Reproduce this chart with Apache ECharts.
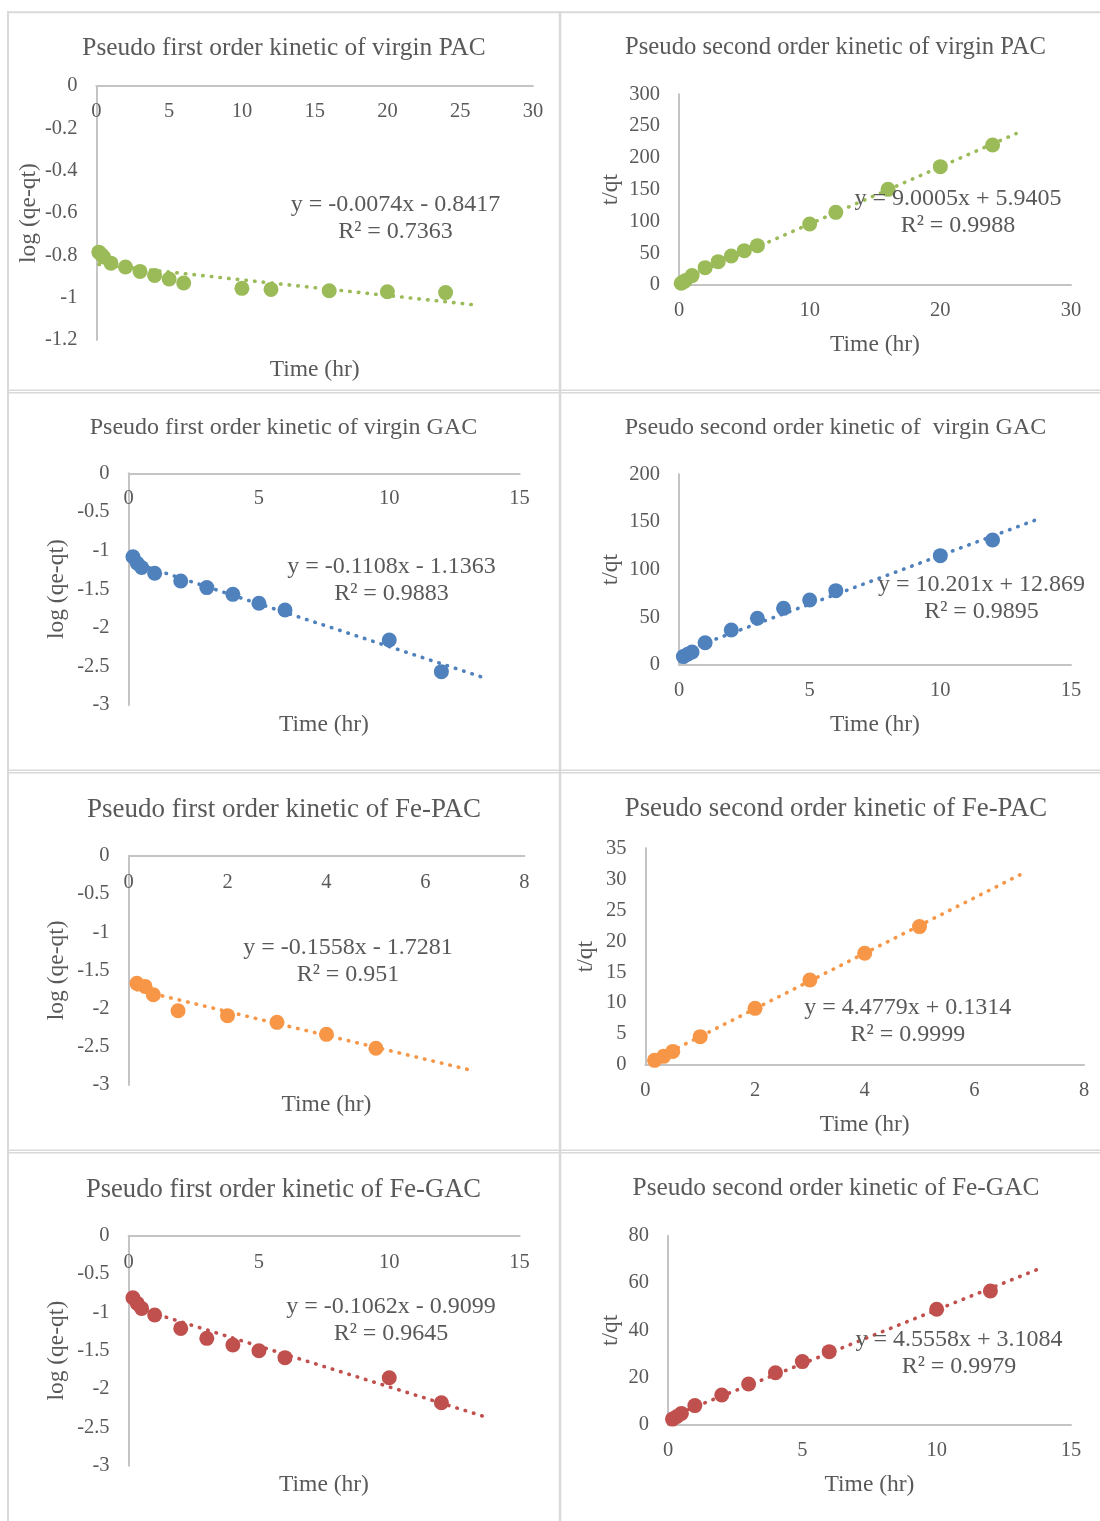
<!DOCTYPE html>
<html>
<head>
<meta charset="utf-8">
<script src="https://cdn.jsdelivr.net/npm/echarts@6/dist/echarts.min.js"></script>
<style>
  html, body { margin: 0; padding: 0; background: #ffffff; }
  #chart { width: 1100px; height: 1521px; }
</style>
</head>
<body>
<div id="chart"></div>
<script>
// ---- Data ----------------------------------------------------------------
// Contact times (hr)
const timePAC   = [0.167, 0.333, 0.5, 1, 2, 3, 4, 5, 6, 10, 12, 16, 20, 24];
const timeGAC   = [0.167, 0.333, 0.5, 1, 2, 3, 4, 5, 6, 10, 12];
const timeFePAC = [0.167, 0.333, 0.5, 1, 2, 3, 4, 5];
const timeFeGAC = [0.167, 0.333, 0.5, 1, 2, 3, 4, 5, 6, 10, 12];

// log (qe-qt) for the pseudo first order plots
const logPAC   = [-0.785, -0.796, -0.808, -0.837, -0.855, -0.876, -0.895, -0.912, -0.931, -0.956, -0.961, -0.967, -0.972, -0.976];
const logGAC   = [-1.08, -1.165, -1.22, -1.295, -1.394, -1.48, -1.567, -1.683, -1.77, -2.158, -2.568];
const logFePAC = [-1.67, -1.71, -1.82, -2.028, -2.093, -2.18, -2.337, -2.52];
const logFeGAC = [-0.809, -0.883, -0.948, -1.035, -1.209, -1.339, -1.426, -1.5, -1.591, -1.852, -2.178];

// t/qt for the pseudo second order plots
const tqPAC   = [2.8, 4.9, 7.0, 14.8, 27.3, 36.7, 45.6, 54, 61.9, 96, 114.3, 150.5, 186.2, 220.2];
const tqGAC   = [8.8, 11.2, 13.6, 23.4, 36.7, 49, 59.4, 68.2, 78, 114.7, 131.1];
const tqFePAC = [0.75, 1.4, 2.2, 4.58, 9.15, 13.73, 18.04, 22.35];
const tqFeGAC = [2.5, 3.6, 4.9, 8.2, 12.7, 17.3, 22.1, 26.8, 31, 48.9, 56.6];

// Linear fits (slope, intercept, R²) and where each trendline stops (hr)
const fitSlope     = [-0.0074, 9.0005, -0.1108, 10.201, -0.1558, 4.4779, -0.1062, 4.5558];
const fitIntercept = [-0.8417, 5.9405, -1.1363, 12.869, -1.7281, 0.1314, -0.9099, 3.1084];
const fitR2        = [0.7363, 0.9988, 0.9883, 0.9895, 0.951, 0.9999, 0.9645, 0.9979];
const fitEnd       = [25.8, 25.8, 13.8, 13.8, 7.0, 6.9, 13.8, 13.9];

// Text
const panelTitles = [
  'Pseudo first order kinetic of virgin PAC',
  'Pseudo second order kinetic of virgin PAC',
  'Pseudo first order kinetic of virgin GAC',
  'Pseudo second order kinetic of  virgin GAC',
  'Pseudo first order kinetic of Fe-PAC',
  'Pseudo second order kinetic of Fe-PAC',
  'Pseudo first order kinetic of Fe-GAC',
  'Pseudo second order kinetic of Fe-GAC'
];
const yNames = ['log (qe-qt)', 't/qt', 'log (qe-qt)', 't/qt', 'log (qe-qt)', 't/qt', 'log (qe-qt)', 't/qt'];
const xName = 'Time (hr)';

// Axis scales
const xMax  = [30, 30, 15, 15, 8, 8, 15, 15];
const xStep = [5, 10, 5, 5, 2, 2, 5, 5];
const yMin  = [-1.2, 0, -3, 0, -3, 0, -3, 0];
const yMax  = [0, 300, 0, 200, 0, 35, 0, 80];
const yStep = [0.2, 50, 0.5, 50, 0.5, 5, 0.5, 20];

// ---- Styling and layout ----------------------------------------------------
const panelX = [timePAC, timePAC, timeGAC, timeGAC, timeFePAC, timeFePAC, timeFeGAC, timeFeGAC];
const panelY = [logPAC, tqPAC, logGAC, tqGAC, logFePAC, tqFePAC, logFeGAC, tqFeGAC];
const colors = ['#9BBB59', '#9BBB59', '#4F81BD', '#4F81BD', '#F79646', '#F79646', '#C0504D', '#C0504D'];

const FONT = '"Liberation Serif", "Times New Roman", serif';
const TEXT = '#595959';
const AXIS = '#c4c4c4';
const BORDER = '#d9d9d9';

// plot rectangles, title / equation anchors, axis-name gaps
const layout = [
  { grid: [96.4, 86, 436.5, 254],    title: [284, 48, 25.4],     eq: [395.5, 218], yGap: 56,   xNameAt: [314.6, 370], xMargin: 15 },
  { grid: [679, 94.3, 392, 190.7],   title: [835.5, 48, 24.7],   eq: [958, 212],   yGap: 56,   xGap: 48,  xMargin: 15 },
  { grid: [128.6, 473.3, 391, 231.7],title: [283.5, 428, 24],    eq: [391.5, 580.5], yGap: 59.6, xNameAt: [324, 725], xMargin: 14.7 },
  { grid: [679, 474.3, 392, 190.7],  title: [835.5, 428, 24],    eq: [981.5, 598], yGap: 56,   xGap: 48,  xMargin: 15 },
  { grid: [128.6, 855.7, 395.7, 229.3], title: [284, 810, 27],   eq: [348, 961],   yGap: 59.6, xNameAt: [326.5, 1105], xMargin: 16 },
  { grid: [645.4, 848.3, 438.6, 216.7], title: [836, 809, 26.8], eq: [907.8, 1021.4], yGap: 47.4, xGap: 48, xMargin: 15 },
  { grid: [128.6, 1235.7, 391, 230], title: [283.5, 1190, 26.6], eq: [391, 1320.5], yGap: 59.6, xNameAt: [324, 1485], xMargin: 16 },
  { grid: [668, 1235.7, 403, 189.3], title: [836, 1188, 25.4],   eq: [959, 1353],  yGap: 45.4, xGap: 48,  xMargin: 15 }
];

function equationText(i) {
  const b = fitIntercept[i];
  return 'y = ' + fitSlope[i] + 'x ' + (b < 0 ? '-' : '+') + ' ' + Math.abs(b) + '\nR\u00B2 = ' + fitR2[i];
}

const grids = [], xAxes = [], yAxes = [], series = [], graphics = [];

// panel frame lines
const frame = [
  [7, 11.3, 1093, 2],       // top edge
  [7, 11.3, 2, 1510],       // left edge
  [558.8, 11.3, 2.5, 1510], // column divider
];
[389.4, 769.4, 1149.4].forEach(function (y) {
  frame.push([7, y, 1093, 1.5]);
  frame.push([7, y + 2.5, 1093, 1.5]);
});
frame.forEach(function (r) {
  graphics.push({ type: 'rect', silent: true, z: 0,
    shape: { x: r[0], y: r[1], width: r[2], height: r[3] },
    style: { fill: BORDER } });
});

layout.forEach(function (L, i) {
  const firstOrder = yMax[i] === 0;
  grids.push({ left: L.grid[0], top: L.grid[1], width: L.grid[2], height: L.grid[3],
    containLabel: false, outerBoundsMode: 'none' });

  const labelStyle = { color: TEXT, fontFamily: FONT, fontSize: 20.5 };
  xAxes.push({
    gridIndex: i, type: 'value', min: 0, max: xMax[i], interval: xStep[i],
    position: firstOrder ? 'top' : 'bottom',
    axisLine: { show: true, onZero: false, lineStyle: { color: AXIS, width: 2 } },
    axisTick: { show: false },
    splitLine: { show: false },
    axisLabel: Object.assign({ inside: firstOrder, margin: L.xMargin, showMinLabel: true, showMaxLabel: true }, labelStyle),
    name: firstOrder ? '' : xName,
    nameLocation: 'middle', nameGap: L.xGap || 0, nameMoveOverlap: false,
    nameTextStyle: { color: TEXT, fontFamily: FONT, fontSize: 23.5 }
  });
  yAxes.push({
    gridIndex: i, type: 'value', min: yMin[i], max: yMax[i], interval: yStep[i],
    position: 'left',
    axisLine: { show: true, onZero: false, lineStyle: { color: AXIS, width: 2 } },
    axisTick: { show: false },
    splitLine: { show: false },
    axisLabel: Object.assign({ margin: 19, padding: [3, 0, 0, 0], showMinLabel: true, showMaxLabel: true }, labelStyle),
    name: yNames[i], nameLocation: 'middle', nameGap: L.yGap, nameMoveOverlap: false,
    nameTextStyle: { color: TEXT, fontFamily: FONT, fontSize: 23.5 }
  });

  const xs = panelX[i], ys = panelY[i];
  series.push({
    type: 'scatter', xAxisIndex: i, yAxisIndex: i,
    symbol: 'circle', symbolSize: 15,
    itemStyle: { color: colors[i], opacity: 1 },
    data: xs.map(function (t, k) { return [t, ys[k]]; }),
    z: 2
  });

  // trendline from the fitted equation
  const t0 = xs[0], t1 = fitEnd[i];
  series.push({
    type: 'line', xAxisIndex: i, yAxisIndex: i, silent: true,
    symbol: 'none', z: 3,
    lineStyle: { color: colors[i], width: 3.6, type: [0.5, 8.2], cap: 'round' },
    data: [[t0, fitSlope[i] * t0 + fitIntercept[i]], [t1, fitSlope[i] * t1 + fitIntercept[i]]]
  });

  graphics.push({ type: 'text', x: L.title[0], y: L.title[1], z: 10, silent: true,
    style: { text: panelTitles[i], fill: TEXT, fontFamily: FONT, fontSize: L.title[2],
      align: 'center', verticalAlign: 'middle' } });

  graphics.push({ type: 'text', x: L.eq[0], y: L.eq[1], z: 10, silent: true,
    style: { text: equationText(i), fill: TEXT, fontFamily: FONT, fontSize: 24,
      lineHeight: 27, align: 'center', verticalAlign: 'middle' } });

  if (firstOrder) {
    graphics.push({ type: 'text', x: L.xNameAt[0], y: L.xNameAt[1], z: 10, silent: true,
      style: { text: xName, fill: TEXT, fontFamily: FONT, fontSize: 23.5,
        align: 'center', verticalAlign: 'middle' } });
  }
});

const chart = echarts.init(document.getElementById('chart'), null, { renderer: 'canvas', width: 1100, height: 1521 });
chart.setOption({
  backgroundColor: '#ffffff',
  animation: false,
  grid: grids,
  xAxis: xAxes,
  yAxis: yAxes,
  series: series,
  graphic: graphics
});
</script>
</body>
</html>
